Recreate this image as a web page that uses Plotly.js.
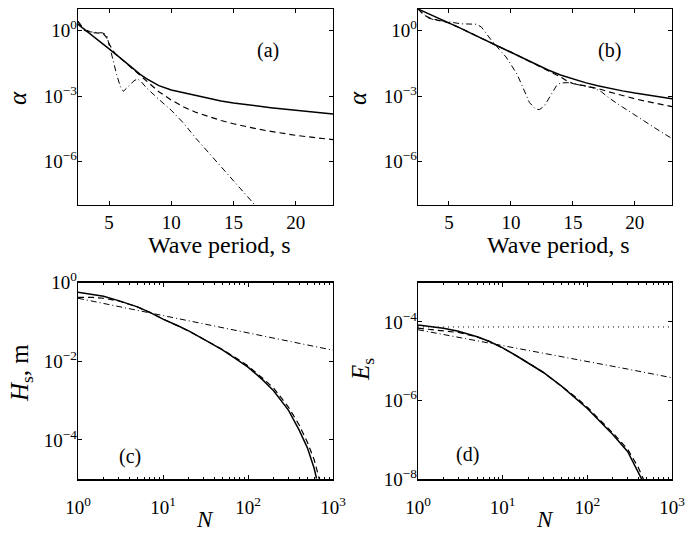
<!DOCTYPE html>
<html>
<head>
<meta charset="utf-8">
<script src="https://cdn.plot.ly/plotly-3.0.1.min.js"></script>
<style>html,body{margin:0;padding:0;background:#fff;}#chart{width:688px;height:535px;}</style>
</head>
<body>
<div id="chart"></div>
<script>
// ---------- Panel (a): alpha vs wave period (log10 of alpha) ----------
var periodA_solid = [2.5,3,3.5,4,4.5,5,5.5,6,6.5,7,7.5,8,9,10,11,12,13,14,15,16,17,18,19,20,21,22,23];
var logAlphaA_solid = [0.3,0.08,-0.13,-0.35,-0.6,-0.83,-1.06,-1.3,-1.55,-1.78,-2.0,-2.2,-2.52,-2.72,-2.85,-2.98,-3.1,-3.22,-3.32,-3.4,-3.47,-3.53,-3.59,-3.65,-3.7,-3.76,-3.82];
var periodA_dash = [2.5,3,3.5,4,4.5,4.8,5,5.3,5.5,6,6.5,7,7.5,8,8.5,9,10,11,12,13,14,15,16,17,18,19,20,21,22,23];
var logAlphaA_dash = [0.4,0.02,-0.08,-0.1,-0.12,-0.3,-0.6,-0.9,-1.06,-1.3,-1.55,-1.8,-2.05,-2.32,-2.58,-2.8,-3.18,-3.5,-3.75,-3.95,-4.12,-4.27,-4.4,-4.52,-4.62,-4.72,-4.8,-4.87,-4.94,-5.0];
var periodA_dashdot = [2.5,3,3.5,4,4.5,4.8,5,5.3,5.6,5.9,6.15,6.5,7,7.3,7.6,8,8.5,9,10,11,12,13,14,15,16,16.8];
var logAlphaA_dashdot = [0.45,0.08,-0.05,-0.08,-0.1,-0.2,-0.6,-1.3,-2.0,-2.55,-2.78,-2.6,-2.3,-2.2,-2.35,-2.62,-2.9,-3.15,-3.65,-4.25,-4.95,-5.6,-6.25,-6.9,-7.5,-8.05];

// ---------- Panel (b) ----------
var periodB_solid = [2.5,3,4,5,6,7,8,9,10,11,12,13,14,15,16,17,18,19,20,21,22,23];
var logAlphaB_solid = [1.0,0.87,0.63,0.38,0.1,-0.18,-0.45,-0.72,-0.98,-1.27,-1.55,-1.8,-2.03,-2.22,-2.38,-2.52,-2.65,-2.76,-2.86,-2.95,-3.04,-3.12];
var periodB_dash = [2.5,3,3.5,4,4.5,5,6,7,8,9,10,11,12,13,13.5,14,14.5,15,16,17,18,19,20,21,22,23];
var logAlphaB_dash = [1.0,0.72,0.57,0.5,0.45,0.36,0.1,-0.18,-0.45,-0.72,-0.98,-1.27,-1.55,-1.82,-1.98,-2.12,-2.3,-2.42,-2.53,-2.65,-2.82,-2.98,-3.12,-3.25,-3.37,-3.48];
var periodB_dashdot = [2.5,3,3.3,3.7,4.4,5,5.5,6,7.2,7.6,7.9,8.4,9.1,9.6,10,10.5,11,11.5,12,12.3,12.7,13.2,13.7,14,14.6,15.2,16,16.7,17.3,18,19,20,21,22,23];
var logAlphaB_dashdot = [1.0,0.72,0.6,0.52,0.45,0.4,0.36,0.32,0.3,0.18,-0.04,-0.42,-0.88,-1.2,-1.55,-2.0,-2.65,-3.3,-3.6,-3.62,-3.45,-3.0,-2.5,-2.4,-2.38,-2.45,-2.55,-2.63,-2.8,-3.12,-3.5,-3.88,-4.25,-4.6,-4.95];

// ---------- Panel (c): Hs vs N ----------
var nC_solid = [1,1.5,2,3,5,7,10,15,20,30,50,70,100,150,200,300,400,500,600,640];
var logHsC_solid = [-0.25,-0.3,-0.35,-0.46,-0.62,-0.76,-0.93,-1.1,-1.23,-1.44,-1.71,-1.92,-2.15,-2.48,-2.75,-3.25,-3.75,-4.2,-4.72,-4.98];
var nC_dash = [1,1.5,2,3,5,7,10,15,20,30,50,70,100,150,200,300,400,500,600,692];
var logHsC_dash = [-0.38,-0.38,-0.4,-0.47,-0.62,-0.76,-0.93,-1.1,-1.23,-1.44,-1.7,-1.9,-2.12,-2.44,-2.68,-3.17,-3.62,-4.06,-4.5,-5.0];
var nC_dashdot = [1,3,10,30,100,300,1000];
var logHsC_dashdot = [-0.4,-0.61,-0.84,-1.05,-1.28,-1.49,-1.72];

// ---------- Panel (d): Es vs N ----------
var nD_dot = [1,1000];
var logEsD_dot = [-4.13,-4.13];
var nD_solid = [1,2,3,5,7,10,15,20,30,50,70,100,150,200,300,400,440];
var logEsD_solid = [-4.08,-4.16,-4.24,-4.38,-4.5,-4.66,-4.88,-5.04,-5.28,-5.64,-5.9,-6.2,-6.59,-6.86,-7.3,-7.8,-8.0];
var nD_dash = [1,2,3,5,7,10,15,20,30,50,70,100,150,200,300,400,460];
var logEsD_dash = [-4.16,-4.22,-4.27,-4.38,-4.5,-4.66,-4.88,-5.04,-5.28,-5.63,-5.88,-6.17,-6.55,-6.82,-7.24,-7.7,-8.0];
var nD_dashdot = [1,3,10,30,100,300,1000];
var logEsD_dashdot = [-4.2,-4.39,-4.6,-4.8,-5.0,-5.2,-5.42];

// ---------- tick labels and texts ----------
var xTicksPeriod = [5,10,15,20];
var yTicksAlpha = [1,1e-3,1e-6];
var yTextAlpha = ['10<sup>0</sup>','10<sup>−3</sup>','10<sup>−6</sup>'];
var xTicksN = [1,10,100,1000];
var xTextN = ['10<sup>0</sup>','10<sup>1</sup>','10<sup>2</sup>','10<sup>3</sup>'];
var xMinorN = [2,3,4,5,6,7,8,9,20,30,40,50,60,70,80,90,200,300,400,500,600,700,800,900];
var yTicksHs = [1,1e-2,1e-4];
var yTextHs = ['10<sup>0</sup>','10<sup>−2</sup>','10<sup>−4</sup>'];
var yTicksEs = [1e-4,1e-6,1e-8];
var yTextEs = ['10<sup>−4</sup>','10<sup>−6</sup>','10<sup>−8</sup>'];
var panelLabels = ['(a)','(b)','(c)','(d)'];
var xTitles = ['Wave period, s','Wave period, s','<i>N</i>','<i>N</i>'];
var yTitles = ['<i>α</i>','<i>α</i>','<i>H</i><sub>s</sub>, m','<i>E</i><sub>s</sub>'];

function pw(arr){ return arr.map(function(v){ return Math.pow(10, v); }); }

var SOLID = {color:'black', width:1.5, dash:'solid'};
var DASH = {color:'black', width:1.2, dash:'6px,4px'};
var DASHDOT = {color:'black', width:1.0, dash:'6px,3px,1px,3px'};
var DOT = {color:'black', width:1.0, dash:'1px,4px'};

function tr(x, y, xa, ya, line){
  return {x:x, y:y, xaxis:xa, yaxis:ya, type:'scatter', mode:'lines', line:line, showlegend:false, hoverinfo:'skip'};
}

var data = [
  tr(periodA_solid, pw(logAlphaA_solid), 'x', 'y', SOLID),
  tr(periodA_dash, pw(logAlphaA_dash), 'x', 'y', DASH),
  tr(periodA_dashdot, pw(logAlphaA_dashdot), 'x', 'y', DASHDOT),
  tr(periodB_solid, pw(logAlphaB_solid), 'x2', 'y2', SOLID),
  tr(periodB_dash, pw(logAlphaB_dash), 'x2', 'y2', DASH),
  tr(periodB_dashdot, pw(logAlphaB_dashdot), 'x2', 'y2', DASHDOT),
  tr(nC_solid, pw(logHsC_solid), 'x3', 'y3', SOLID),
  tr(nC_dash, pw(logHsC_dash), 'x3', 'y3', DASH),
  tr(nC_dashdot, pw(logHsC_dashdot), 'x3', 'y3', DASHDOT),
  tr(nD_dot, pw(logEsD_dot), 'x4', 'y4', DOT),
  tr(nD_solid, pw(logEsD_solid), 'x4', 'y4', SOLID),
  tr(nD_dash, pw(logEsD_dash), 'x4', 'y4', DASH),
  tr(nD_dashdot, pw(logEsD_dashdot), 'x4', 'y4', DASHDOT)
];

var FONT = "'Liberation Serif', 'Times New Roman', serif";
var W = 688, H = 535;
function dx(a, b){ return [a / W, b / W]; }
function dy(top, bottom){ return [1 - bottom / H, 1 - top / H]; }

function axisBase(extra){
  var a = {
    showline:true, linecolor:'black', linewidth:1.2, mirror:'ticks',
    ticks:'inside', ticklen:4, tickwidth:1, tickcolor:'black',
    showgrid:false, zeroline:false, fixedrange:true,
    tickfont:{family:FONT, size:19, color:'black'}
  };
  for (var k in extra) a[k] = extra[k];
  return a;
}

function txt(s, px, py, size, angle, yanchor){
  return {text:s, xref:'paper', yref:'paper', x:px / W, y:1 - py / H, xanchor:'center', yanchor:yanchor || 'middle',
          showarrow:false, textangle:angle || 0, font:{family:FONT, size:size, color:'black'}};
}

var layout = {
  width:W, height:H,
  margin:{l:0, r:0, t:0, b:0},
  paper_bgcolor:'white', plot_bgcolor:'white',
  font:{family:FONT, color:'black'},
  xaxis: axisBase({domain:dx(78,333), range:[2.5,23], tickvals:xTicksPeriod, anchor:'y', ticklabelstandoff:0}),
  yaxis: axisBase({domain:dy(9,205), type:'log', range:[-8,1], tickvals:yTicksAlpha, ticktext:yTextAlpha, anchor:'x', ticklabelstandoff:-4}),
  xaxis2: axisBase({domain:dx(418,672), range:[2.5,23], tickvals:xTicksPeriod, anchor:'y2', ticklabelstandoff:0}),
  yaxis2: axisBase({domain:dy(9,205), type:'log', range:[-8,1], tickvals:yTicksAlpha, ticktext:yTextAlpha, anchor:'x2', ticklabelstandoff:-4}),
  xaxis3: axisBase({domain:dx(78,333), type:'log', range:[0,3], tickvals:xTicksN, ticktext:xTextN, anchor:'y3', ticklabelstandoff:11,
    minor:{tickvals:xMinorN, ticks:'inside', ticklen:2, tickcolor:'black', showgrid:false}}),
  yaxis3: axisBase({domain:dy(282.5,479.3), type:'log', range:[-5,0], tickvals:yTicksHs, ticktext:yTextHs, anchor:'x3', ticklabelstandoff:-4}),
  xaxis4: axisBase({domain:dx(418,672), type:'log', range:[0,3], tickvals:xTicksN, ticktext:xTextN, anchor:'y4', ticklabelstandoff:11,
    minor:{tickvals:xMinorN, ticks:'inside', ticklen:2, tickcolor:'black', showgrid:false}}),
  yaxis4: axisBase({domain:dy(282.5,479.3), type:'log', range:[-8,-3], tickvals:yTicksEs, ticktext:yTextEs, anchor:'x4', ticklabelstandoff:-4}),
  annotations: [
    txt(panelLabels[0], 268, 50, 20),
    txt(panelLabels[1], 609, 50, 20),
    txt(panelLabels[2], 130, 456, 20),
    txt(panelLabels[3], 467, 454, 20),
    txt(xTitles[0], 219, 245, 24),
    txt(xTitles[1], 558, 245, 24),
    txt(xTitles[2], 205, 534, 23, 0, 'bottom'),
    txt(xTitles[3], 545, 534, 23, 0, 'bottom'),
    txt(yTitles[0], 18, 98, 25, -90),
    txt(yTitles[1], 358, 98, 25, -90),
    txt(yTitles[2], 21, 373, 25, -90),
    txt(yTitles[3], 362, 370, 25, -90)
  ]
};

Plotly.newPlot('chart', data, layout, {staticPlot:true, displayModeBar:false});
</script>
</body>
</html>
